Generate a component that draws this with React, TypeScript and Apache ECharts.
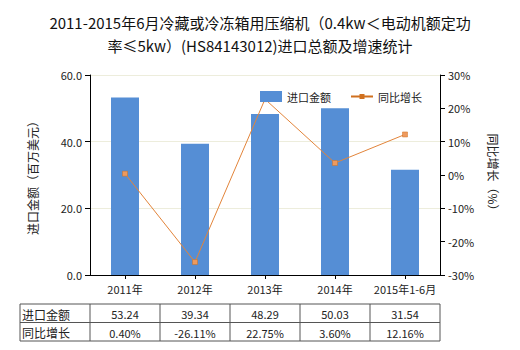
import React, { useEffect, useRef } from "react";
import * as echarts from "echarts";

const categories = ["2011年", "2012年", "2013年", "2014年", "2015年1-6月"];
const importValues = [53.24, 39.34, 48.29, 50.03, 31.54];
const growthValues = [0.4, -26.11, 22.75, 3.6, 12.16];
const importLabels = ["53.24", "39.34", "48.29", "50.03", "31.54"];
const growthLabels = ["0.40%", "-26.11%", "22.75%", "3.60%", "12.16%"];
const rowNames = ["进口金额", "同比增长"];

const FONT = "'Noto Sans CJK SC', 'Microsoft YaHei', sans-serif";

export default function App() {
  const ref = useRef<HTMLDivElement>(null);
  useEffect(() => {
    if (!ref.current) return;
    const chart = echarts.init(ref.current, null, { renderer: "svg" });
    const gridLeft = 90;
    const gridRight = 440;
    const colW = (gridRight - gridLeft) / categories.length;
    const tableLeft = 20;
    const rowTops = [304, 322.5, 341];
    const graphics: any[] = [];
    const lineStyle = { stroke: "#555", lineWidth: 1 };
    rowTops.forEach((y) => {
      graphics.push({ type: "line", shape: { x1: tableLeft, y1: y, x2: gridRight, y2: y }, style: lineStyle, silent: true });
    });
    const colXs = [tableLeft, ...categories.map((_, i) => gridLeft + i * colW), gridRight];
    colXs.forEach((x) => {
      graphics.push({ type: "line", shape: { x1: x, y1: rowTops[0], x2: x, y2: rowTops[2] }, style: lineStyle, silent: true });
    });
    const rows = [importLabels, growthLabels];
    rows.forEach((vals, r) => {
      const cy = (rowTops[r] + rowTops[r + 1]) / 2 + 1;
      graphics.push({
        type: "text",
        x: tableLeft + 2,
        y: cy,
        style: { text: rowNames[r], font: `12px ${FONT}`, fill: "#222", textVerticalAlign: "middle", textAlign: "left" },
        silent: true,
      });
      vals.forEach((v, i) => {
        graphics.push({
          type: "text",
          x: gridLeft + i * colW + colW / 2,
          y: cy,
          style: { text: v, font: `11px ${FONT}`, fill: "#222", textVerticalAlign: "middle", textAlign: "center" },
          silent: true,
        });
      });
    });

    chart.setOption({
      animation: false,
      textStyle: { fontFamily: FONT },
      title: {
        text: "2011-2015年6月冷藏或冷冻箱用压缩机（0.4kw＜电动机额定功\n率≤5kw）(HS84143012)进口总额及增速统计",
        left: "center",
        top: 6,
        textStyle: { fontSize: 15, fontWeight: "normal", color: "#111", lineHeight: 23, fontFamily: FONT },
      },
      legend: {
        left: 255,
        top: 86,
        itemWidth: 22,
        itemHeight: 11,
        itemGap: 20,
        textStyle: { fontSize: 11, color: "#222" },
        data: [
          { name: "进口金额", icon: "rect" },
          {
            name: "同比增长",
            icon: "path://M0,4.5H22V6.5H0Z M8.5,3H13.5V8H8.5Z",
            itemStyle: { color: "#D0701F", borderWidth: 0 },
          },
        ],
      },
      grid: { left: gridLeft, right: 520 - gridRight, top: 75, bottom: 75 },
      xAxis: {
        type: "category",
        data: categories,
        axisLine: { lineStyle: { color: "#000" } },
        axisTick: { show: true, alignWithLabel: true, length: 4, lineStyle: { color: "#000" } },
        axisLabel: { color: "#222", fontSize: 11, margin: 8, interval: 0 },
      },
      yAxis: [
        {
          type: "value",
          min: 0,
          max: 60,
          interval: 20,
          name: "进口金额（百万美元）",
          nameLocation: "middle",
          nameGap: 52,
          nameTextStyle: { fontSize: 12, color: "#222" },
          axisLine: { show: true, lineStyle: { color: "#000" } },
          axisTick: { show: true, length: 5, lineStyle: { color: "#000" } },
          axisLabel: { color: "#222", fontSize: 11, formatter: (v: number) => v.toFixed(1) },
          splitLine: { lineStyle: { color: "#EDEDDC" } },
        },
        {
          type: "value",
          min: -30,
          max: 30,
          interval: 10,
          name: "同比增长（%）",
          nameLocation: "middle",
          nameGap: 47,
          nameRotate: -90,
          nameTextStyle: { fontSize: 12, color: "#222" },
          axisLine: { show: true, lineStyle: { color: "#000" } },
          axisTick: { show: true, length: 5, lineStyle: { color: "#000" } },
          axisLabel: { color: "#222", fontSize: 11, formatter: "{value}%" },
          splitLine: { show: false },
        },
      ],
      series: [
        {
          name: "进口金额",
          type: "bar",
          data: importValues,
          barWidth: 28,
          itemStyle: { color: "#558ED5" },
        },
        {
          name: "同比增长",
          type: "line",
          yAxisIndex: 1,
          data: growthValues,
          symbol: "rect",
          symbolSize: 5,
          lineStyle: { color: "#E2843A", width: 1 },
          itemStyle: { color: "#EE9A5E", borderColor: "#D0701F", borderWidth: 0.5 },
        },
      ],
      graphic: graphics,
    });
    return () => chart.dispose();
  }, []);
  return <div ref={ref} style={{ width: 520, height: 350, position: "absolute", left: 0, top: 0 }} />;
}
